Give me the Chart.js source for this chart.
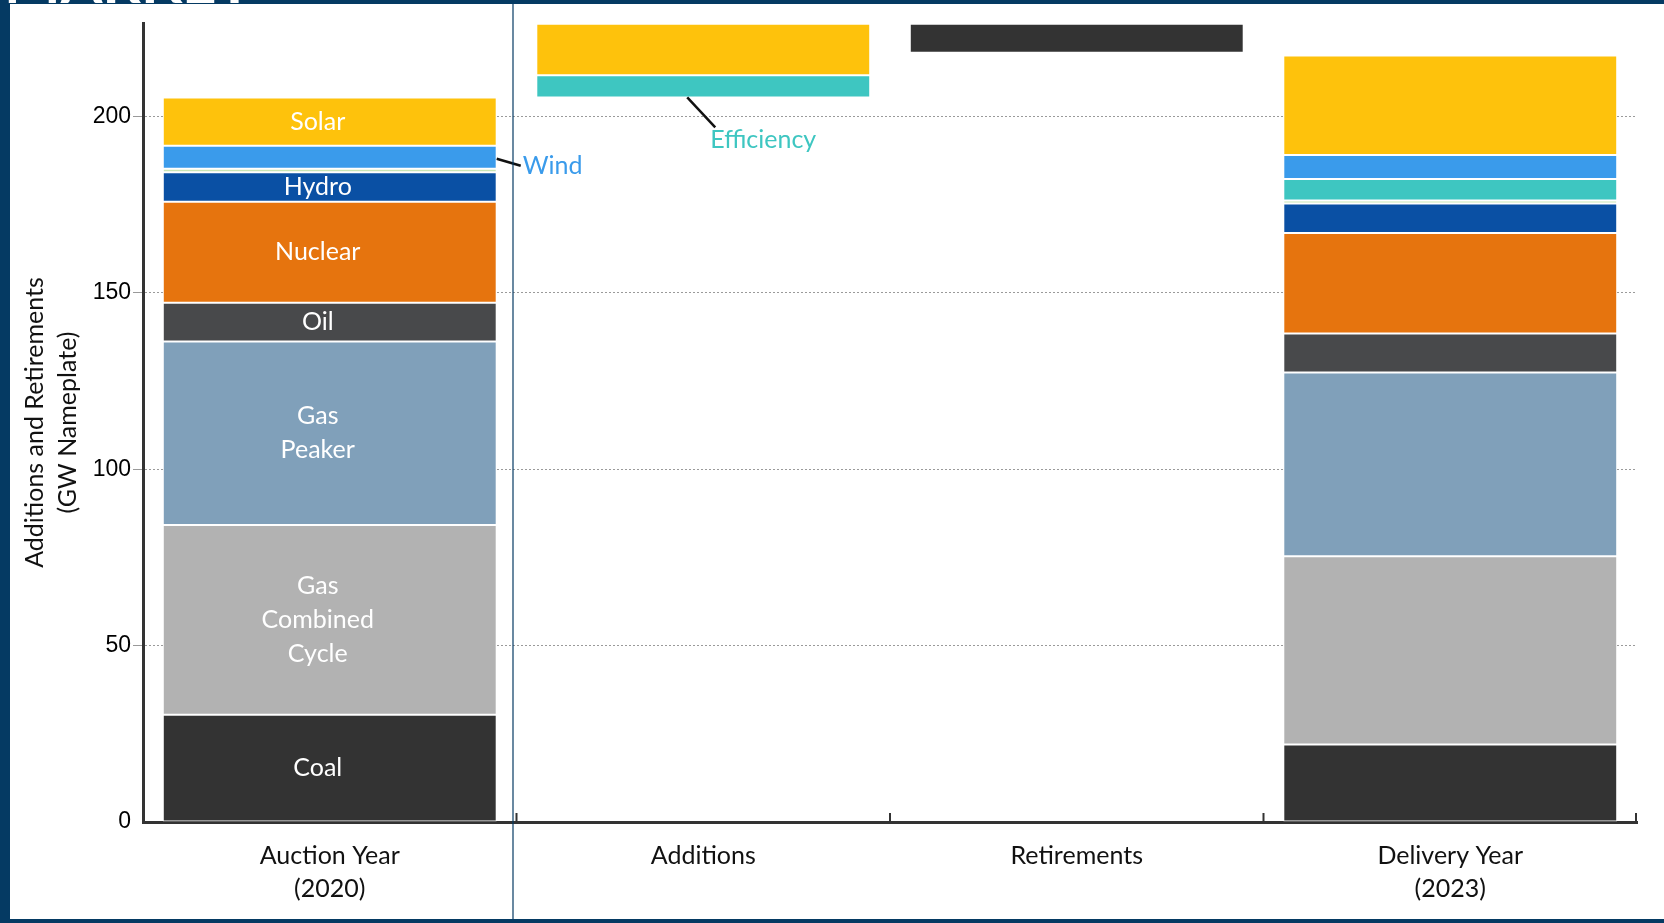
<!DOCTYPE html>
<html>
<head>
<meta charset="utf-8">
<title>Capacity additions and retirements</title>
<script src="https://cdn.jsdelivr.net/npm/chart.js@4.4.1/dist/chart.umd.min.js"></script>
<style>
  html, body { margin: 0; padding: 0; background: #fff; }
  #wrap { width: 1664px; height: 923px; }
</style>
</head>
<body>
<div id="wrap"><canvas id="capacityChart" width="1664" height="923"></canvas></div>
<script>
// x categories
const categories = [["Auction Year", "(2020)"], "Additions", "Retirements", ["Delivery Year", "(2023)"]];

// GW nameplate per category (null = no segment)
const coal        = [30.4, null, 8.2, 22.0];
const gasCombined = [53.8, null, null, 53.3];
const gasPeaker   = [52.0, null, null, 52.1];
const oil         = [11.0, null, null, 11.1];
const nuclear     = [28.6, null, null, 28.5];
const hydro       = [8.4, null, null, 8.3];
const other       = [1.0, null, null, 0.9];
const efficiency  = [null, 6.3, null, 6.1];
const wind        = [6.5, null, null, 6.8];
const solar       = [13.7, 14.6, null, 28.2];

const yTicks = [0, 50, 100, 150, 200];

// invisible base so the middle bars float (waterfall)
const series = [coal, gasCombined, gasPeaker, oil, nuclear, hydro, other, efficiency, wind, solar];
const auctionTotal = series.reduce((s, arr) => s + (arr[0] || 0), 0);
const additionsTop = auctionTotal + efficiency[1] + solar[1];
const base = [null, auctionTotal, additionsTop - coal[2], null];

const NAVY = "#053a63";

function seg(label, data, color, inBar) {
    return {
        label: label,
        data: data,
        backgroundColor: color,
        borderColor: "rgba(255,255,255,0.9)",
        borderWidth: 1,
        borderSkipped: false,
        inBar: inBar
    };
}

// labels inside the auction bar, leader labels, tick marks and slide frame
const annotate = {
    id: "annotate",
    afterDatasetsDraw(chart) {
        const ctx = chart.ctx;
        ctx.save();
        ctx.font = "25px Lato";
        ctx.fillStyle = "#fff";
        ctx.textAlign = "center";
        ctx.textBaseline = "middle";
        chart.data.datasets.forEach((ds, i) => {
            if (!ds.inBar) return;
            const bar = chart.getDatasetMeta(i).data[0];
            const lines = [].concat(ds.inBar);
            const mid = (bar.y + bar.base) / 2;
            lines.forEach((t, k) => {
                ctx.fillText(t, bar.x - 12, mid + (k - (lines.length - 1) / 2) * 34);
            });
        });

        // Wind leader
        const idxWind = chart.data.datasets.findIndex(d => d.label === "Wind");
        const w = chart.getDatasetMeta(idxWind).data[0];
        const wx = w.x + w.width / 2, wy = (w.y + w.base) / 2 + 1.5;
        ctx.strokeStyle = "#111";
        ctx.lineWidth = 2.5;
        ctx.beginPath();
        ctx.moveTo(wx, wy);
        ctx.lineTo(wx + 24, wy + 7);
        ctx.stroke();
        ctx.fillStyle = "#3a9beb";
        ctx.textAlign = "left";
        ctx.fillText("Wind", wx + 26, wy + 7);

        // Efficiency leader
        const idxEff = chart.data.datasets.findIndex(d => d.label === "Efficiency");
        const e = chart.getDatasetMeta(idxEff).data[1];
        const ex = e.x - 16, ey = e.base;
        ctx.beginPath();
        ctx.moveTo(ex, ey);
        ctx.lineTo(ex + 28, ey + 30);
        ctx.stroke();
        ctx.fillStyle = "#3ec6c1";
        ctx.textAlign = "center";
        ctx.fillText("Efficiency", ex + 76, ey + 43);
        ctx.restore();
    },
    afterDraw(chart) {
        const ctx = chart.ctx;
        const area = chart.chartArea;
        const xs = chart.scales.x;
        ctx.save();
        // small upward ticks at category boundaries
        ctx.strokeStyle = "#333";
        ctx.lineWidth = 2;
        const half = (xs.getPixelForTick(1) - xs.getPixelForTick(0)) / 2;
        for (let i = 0; i < categories.length; i++) {
            const x = Math.min(xs.getPixelForTick(i) + half, area.right - 1);
            ctx.beginPath();
            ctx.moveTo(x, area.bottom);
            ctx.lineTo(x, area.bottom - 9);
            ctx.stroke();
        }

        // slide frame
        ctx.fillStyle = NAVY;
        ctx.fillRect(0, 0, chart.width, 4);
        ctx.fillRect(0, 0, 10, chart.height);
        ctx.fillRect(0, chart.height - 4, chart.width, 4);
        ctx.strokeStyle = NAVY;
        ctx.lineWidth = 1.2;
        ctx.beginPath();
        ctx.moveTo(513, 4);
        ctx.lineTo(513, chart.height - 4);
        ctx.stroke();
        // bottom of the cut-off slide title
        ctx.beginPath();
        ctx.rect(0, 0, 320, 3.5);
        ctx.clip();
        ctx.fillStyle = "#fff";
        ctx.font = "bold 60px Lato";
        ctx.textBaseline = "alphabetic";
        ctx.textAlign = "left";
        ctx.fillText("MARKET", 4, 3);
        ctx.restore();
    }
};

Chart.defaults.font.family = "Lato";

new Chart(document.getElementById("capacityChart"), {
    type: "bar",
    data: {
        labels: categories,
        datasets: [
            { label: "base", data: base, backgroundColor: "rgba(0,0,0,0)", borderWidth: 0 },
            seg("Coal", coal, "#333333", "Coal"),
            seg("Gas Combined Cycle", gasCombined, "#b2b2b2", ["Gas", "Combined", "Cycle"]),
            seg("Gas Peaker", gasPeaker, "#80a0ba", ["Gas", "Peaker"]),
            seg("Oil", oil, "#48494b", "Oil"),
            seg("Nuclear", nuclear, "#e6740e", "Nuclear"),
            seg("Hydro", hydro, "#0a50a4", "Hydro"),
            seg("Other", other, "#c9e5b5", null),
            seg("Efficiency", efficiency, "#3ec6c1", null),
            seg("Wind", wind, "#3a9beb", null),
            seg("Solar", solar, "#fec20c", "Solar")
        ]
    },
    options: {
        responsive: false,
        animation: false,
        layout: { padding: { top: 23, right: 27, left: 0, bottom: 0 } },
        datasets: { bar: { categoryPercentage: 1, barPercentage: 0.894 } },
        plugins: { legend: { display: false }, tooltip: { enabled: false } },
        scales: {
            x: {
                stacked: true,
                grid: { display: false, drawTicks: false },
                border: { color: "#333", width: 3 },
                ticks: {
                    color: "#111",
                    font: { size: 25, lineHeight: 1.32 },
                    padding: 17,
                    maxRotation: 0,
                    autoSkip: false
                },
                afterFit(scale) { scale.height = 101; }
            },
            y: {
                stacked: true,
                min: 0,
                max: 226.5,
                afterBuildTicks(scale) { scale.ticks = yTicks.map(v => ({ value: v })); },
                grid: {
                    color: ctx => (ctx.tick && ctx.tick.value > 0 ? "#9a9a9a" : "rgba(0,0,0,0)"),
                    lineWidth: 1,
                    tickLength: 10
                },
                border: { color: "#333", width: 3, dash: [2, 2] },
                ticks: {
                    color: "#000",
                    font: { family: "Liberation Sans", size: 23 },
                    padding: 2
                },
                title: {
                    display: true,
                    text: ["Additions and Retirements", "(GW Nameplate)"],
                    color: "#111",
                    font: { size: 25, lineHeight: 1.32 },
                    padding: { top: 18.5, bottom: 0 }
                },
                afterFit(scale) { scale.width = 143; }
            }
        }
    },
    plugins: [annotate]
});
</script>
</body>
</html>
